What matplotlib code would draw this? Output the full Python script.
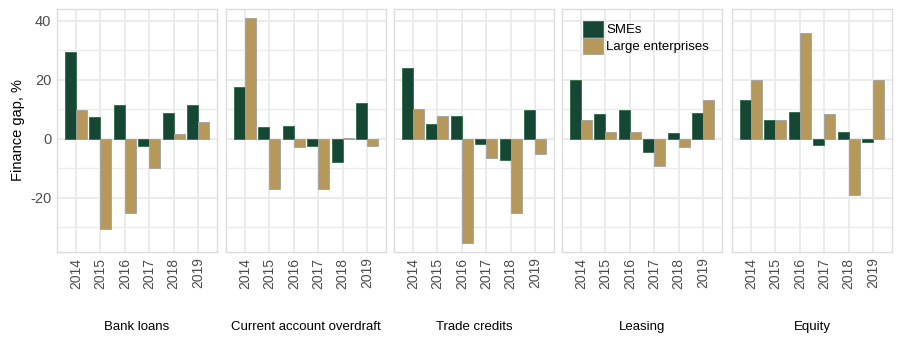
import matplotlib
matplotlib.use("Agg")
import matplotlib.pyplot as plt
from matplotlib.patches import Patch
import numpy as np

plt.rcParams['font.family'] = ['Liberation Sans', 'DejaVu Sans']

years = ['2014', '2015', '2016', '2017', '2018', '2019']
instruments = ['Bank loans', 'Current account overdraft', 'Trade credits', 'Leasing', 'Equity']

smes = {
    'Bank loans': [29.4, 7.4, 11.4, -2.5, 8.8, 11.5],
    'Current account overdraft': [17.7, 3.9, 4.3, -2.5, -7.7, 12.2],
    'Trade credits': [24.0, 4.9, 7.8, -1.8, -7.0, 9.7],
    'Leasing': [20.1, 8.3, 9.7, -4.3, 1.9, 8.8],
    'Equity': [13.3, 6.4, 9.1, -2.1, 2.2, -0.9],
}
large = {
    'Bank loans': [9.8, -30.6, -25.1, -9.8, 1.7, 5.6],
    'Current account overdraft': [41.0, -16.9, -2.9, -16.9, 0.2, -2.5],
    'Trade credits': [10.1, 7.8, -35.4, -6.4, -25.1, -5.0],
    'Leasing': [6.4, 2.2, 2.3, -9.1, -2.9, 13.3],
    'Equity': [20.1, 6.4, 36.0, 8.5, -19.0, 20.1],
}

green = '#154734'
tan = '#b5985a'

fig = plt.figure(figsize=(9, 3.6), dpi=100)
lefts = [57, 226, 394, 562, 732]
x = np.arange(len(years))
w = 0.45

for i, name in enumerate(instruments):
    ax = fig.add_axes([lefts[i] / 900, 0.30, 160 / 900, 0.675])
    ax.bar(x - w / 2, smes[name], w, color=green, edgecolor='#2e6b45', linewidth=0.6, zorder=3)
    ax.bar(x + w / 2, large[name], w, color=tan, edgecolor='#a0a0a0', linewidth=0.6, zorder=3)
    ax.set_xlim(-0.77, 5.77)
    ax.set_ylim(-38.3, 44)
    ax.set_xticks(x)
    ax.set_xticklabels(years, rotation=90, fontsize=10, color='#4d4d4d')
    ax.set_yticks([-20, 0, 20, 40])
    ax.set_yticks([-30, -10, 10, 30], minor=True)
    ax.grid(True, which='major', color='#ebebeb', linewidth=1.4, zorder=0)
    ax.grid(True, which='minor', axis='y', color='#ebebeb', linewidth=1.0, zorder=0)
    ax.tick_params(length=0, which='both', pad=4)
    for s in ax.spines.values():
        s.set_color('#dcdcdc')
        s.set_linewidth(1.0)
    if i == 0:
        ax.set_yticklabels(['-20', '0', '20', '40'], fontsize=10.5, color='#4d4d4d')
        ax.set_ylabel('Finance gap, %', fontsize=10.5, color='black', labelpad=4)
    else:
        ax.set_yticklabels([])
    fig.text((lefts[i] + 80) / 900, 1 - 327 / 360, name, ha='center', va='center',
             fontsize=9.5)
    if name == 'Leasing':
        handles = [Patch(facecolor=green, edgecolor='#2e6b45', linewidth=0.6, label='SMEs'),
                   Patch(facecolor=tan, edgecolor='#a0a0a0', linewidth=0.6, label='Large enterprises')]
        ax.legend(handles=handles, loc='upper left', bbox_to_anchor=(0.08, 0.985), frameon=False,
                  fontsize=9.5, handlelength=1.5, handleheight=1.5, handletextpad=0.3,
                  labelspacing=0.1, borderaxespad=0.2)

fig.savefig('out.png', dpi=100)
